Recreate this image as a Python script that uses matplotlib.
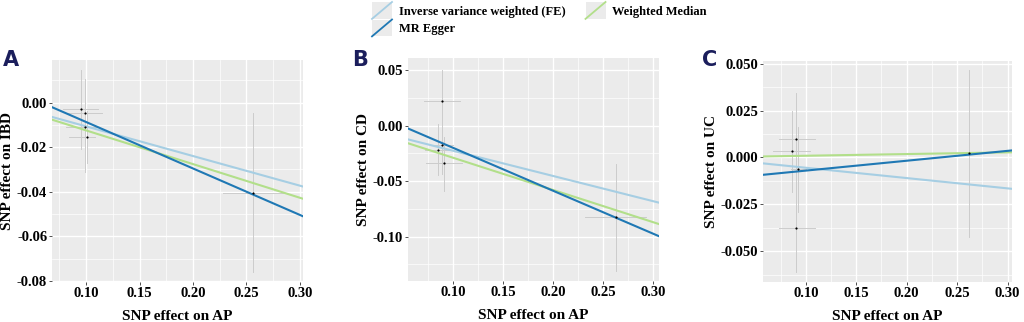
import matplotlib
matplotlib.use("Agg")
import matplotlib.pyplot as plt
from matplotlib.lines import Line2D
from matplotlib.patches import Rectangle
from matplotlib.legend_handler import HandlerBase
from matplotlib.ticker import MultipleLocator
import numpy as np

# ---- data ----
panels = ["A", "B", "C"]
outcomes = ["IBD", "CD", "UC"]

# SNP points (x = effect on AP, y = effect on outcome)
a_x = [0.0948, 0.0988, 0.0985, 0.1006, 0.2564]
a_y = [-0.0030, -0.0049, -0.0109, -0.0154, -0.0406]
a_xlo = [0.078, 0.083, 0.081, 0.084, 0.228]
a_xhi = [0.1115, 0.115, 0.110, 0.108, 0.284]
a_ylo = [-0.021, -0.020, -0.031, -0.027, -0.0759]
a_yhi = [0.0147, 0.0105, 0.009, -0.004, -0.0045]

b_x = [0.089, 0.089, 0.0847, 0.091, 0.2627]
b_y = [0.0223, -0.0175, -0.0223, -0.034, -0.0825]
b_xlo = [0.0707, 0.078, 0.072, 0.0727, 0.2317]
b_xhi = [0.1073, 0.100, 0.097, 0.1093, 0.293]
b_ylo = [-0.0434, -0.040, -0.0449, -0.059, -0.131]
b_yhi = [0.050, 0.005, 0.0018, -0.0102, -0.035]

c_x = [0.0901, 0.0864, 0.0927, 0.0901, 0.2613]
c_y = [0.0096, 0.0032, -0.0062, -0.0377, 0.0023]
c_xlo = [0.0732, 0.068, 0.085, 0.0732, 0.255]
c_xhi = [0.1089, 0.104, 0.100, 0.1089, 0.268]
c_ylo = [-0.015, -0.0183, -0.029, -0.061, -0.0424]
c_yhi = [0.0342, 0.0249, 0.0164, -0.014, 0.0466]

# MR fits: (intercept, slope) per panel
methods = ["Inverse variance weighted (FE)", "MR Egger", "Weighted Median"]
ivw_fit = [(0.0026, -0.1329), (0.0, -0.227), (0.0, -0.055)]
egger_fit = [(0.0121, -0.2083), (0.0186, -0.3865), (-0.0123, 0.0527)]
wm_fit = [(0.0026, -0.151), (0.0, -0.290), (0.0, 0.009)]

colors = {"Inverse variance weighted (FE)": "#a6cee3",
          "MR Egger": "#1f78b4",
          "Weighted Median": "#b2df8a"}

xlims = [(0.068, 0.303), (0.055, 0.306), (0.0576, 0.3043)]
ylims = [(-0.0805, 0.0191), (-0.140, 0.0608), (-0.0664, 0.0514)]
yticks = [[-0.08, -0.06, -0.04, -0.02, 0.00],
          [-0.10, -0.05, 0.00, 0.05],
          [-0.050, -0.025, 0.000, 0.025, 0.050]]
yfmt = ["{:.2f}", "{:.2f}", "{:.3f}"]
xticks = [0.10, 0.15, 0.20, 0.25, 0.30]

pts = [(a_x, a_y, a_xlo, a_xhi, a_ylo, a_yhi),
       (b_x, b_y, b_xlo, b_xhi, b_ylo, b_yhi),
       (c_x, c_y, c_xlo, c_xhi, c_ylo, c_yhi)]

serif = ["Liberation Serif", "DejaVu Serif"]

# axes boxes in pixels: left, right, top, bottom
boxes = [(52, 303, 60, 282), (408, 659, 58, 281), (763, 1012, 61, 282)]
letter_x = [3, 352, 702]
W, H = 1024, 322

fig = plt.figure(figsize=(W / 100, H / 100), dpi=100)

for i, (l, r, t, b) in enumerate(boxes):
    ax = fig.add_axes([l / W, 1 - b / H, (r - l) / W, (b - t) / H])
    ax.set_facecolor("#EBEBEB")
    for s in ax.spines.values():
        s.set_visible(False)
    ax.set_xlim(*xlims[i])
    ax.set_ylim(*ylims[i])

    ax.set_xticks(xticks)
    ax.set_xticklabels(["{:.2f}".format(v) for v in xticks])
    ax.set_yticks(yticks[i])
    ax.set_yticklabels([yfmt[i].format(v) for v in yticks[i]])
    ystep = yticks[i][1] - yticks[i][0]
    ax.xaxis.set_minor_locator(MultipleLocator(0.025))
    ax.yaxis.set_minor_locator(MultipleLocator(ystep / 2))
    ax.grid(which="major", color="white", lw=1.0)
    ax.grid(which="minor", color="white", lw=0.5)
    ax.set_axisbelow(True)
    ax.tick_params(which="major", length=2, width=0.6, color="#333333",
                   pad=1.5)
    ax.tick_params(which="minor", length=0)
    for lab in ax.get_xticklabels() + ax.get_yticklabels():
        lab.set_family(serif)
        lab.set_fontweight("bold")
        lab.set_fontsize(10.5)
        lab.set_color("black")

    x, y, xlo, xhi, ylo, yhi = pts[i]
    for j in range(len(x)):
        ax.plot([xlo[j], xhi[j]], [y[j], y[j]], color="#cccccc", lw=0.7, zorder=2)
        ax.plot([x[j], x[j]], [ylo[j], yhi[j]], color="#cccccc", lw=0.7, zorder=2)
    ax.scatter(x, y, s=2.5, color="black", lw=0, zorder=4)

    xs = np.array(xlims[i])
    for name, fit in [("Inverse variance weighted (FE)", ivw_fit[i]),
                      ("Weighted Median", wm_fit[i]),
                      ("MR Egger", egger_fit[i])]:
        a0, b1 = fit
        ax.plot(xs, a0 + b1 * xs, color=colors[name], lw=1.5, zorder=3)

    ax.set_xlabel("SNP effect on AP", family=serif, fontweight="bold",
                  fontsize=11, labelpad=7)
    ax.set_ylabel("SNP effect on " + outcomes[i], family=serif,
                  fontweight="bold", fontsize=11, labelpad=2)

    # panel letter
    fig.text(letter_x[i] / W, 1 - 60 / H, panels[i],
             fontsize=15, fontweight="bold", color="#1b1e5c",
             family="DejaVu Sans", ha="left", va="center")


class DiagKey(HandlerBase):
    def create_artists(self, legend, orig_handle, xdescent, ydescent,
                       width, height, fontsize, trans):
        bg = Rectangle((-xdescent, -ydescent), width, height,
                       facecolor="#EBEBEB", edgecolor="none", transform=trans)
        ln = Line2D([-xdescent, -xdescent + width],
                    [-ydescent, -ydescent + height],
                    color=orig_handle.get_color(), lw=1.3, transform=trans)
        return [bg, ln]


handles = [Line2D([], [], color=colors[m]) for m in methods]
leg = fig.legend(handles, methods, loc="upper left",
                 bbox_to_anchor=(372 / W, 1 - 2 / H), ncol=2, frameon=False,
                 borderpad=0, borderaxespad=0, handlelength=1.6,
                 handleheight=1.7, handletextpad=0.55, labelspacing=0.05,
                 columnspacing=1.6,
                 handler_map={Line2D: DiagKey()},
                 prop={"family": serif, "weight": "bold", "size": 9})

fig.savefig("out.png", dpi=100)
